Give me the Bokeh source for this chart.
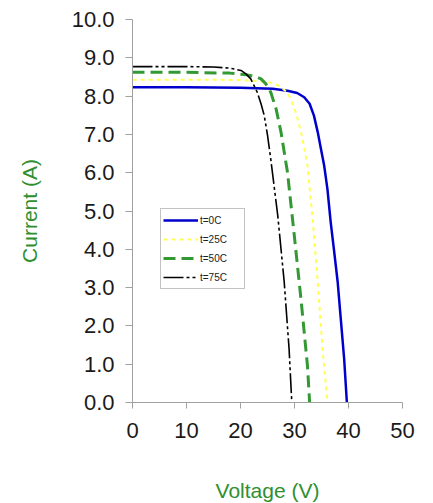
from bokeh.plotting import figure
from bokeh.models import Range1d, FixedTicker, NumeralTickFormatter, Legend, LegendItem
from bokeh.embed import file_html
from bokeh.resources import INLINE

# Data
v_0c = [0, 10, 20, 26, 28.7, 30.5, 31.8, 32.8, 33.6, 34.3, 34.9, 35.5, 36.1, 36.7, 37.3, 38.0, 38.5, 39.2, 39.7]
i_0c = [8.23, 8.23, 8.22, 8.19, 8.14, 8.08, 7.97, 7.80, 7.49, 7.06, 6.62, 6.18, 5.57, 4.71, 4.00, 3.14, 2.30, 1.13, 0.0]

v_25c = [0, 10, 20, 25, 27, 28.5, 29.3, 30.3, 31.2, 31.8, 32.4, 33.3, 34.3, 35.2, 36.1]
i_25c = [8.43, 8.43, 8.42, 8.38, 8.28, 8.12, 7.93, 7.55, 7.06, 6.65, 6.18, 4.88, 3.14, 1.39, 0.0]

v_50c = [0, 10, 18, 21, 23, 23.8, 24.7, 25.6, 26.6, 27.5, 28.7, 29.9, 31.2, 32.4, 32.8]
i_50c = [8.62, 8.62, 8.60, 8.56, 8.50, 8.45, 8.32, 8.10, 7.66, 7.06, 6.01, 4.44, 2.70, 0.96, 0.0]

v_75c = [0, 10, 15, 18, 20.1, 21.0, 21.9, 23.1, 23.8, 24.4, 25.0, 25.6, 26.9, 28.1, 29.0, 29.5]
i_75c = [8.77, 8.77, 8.76, 8.73, 8.67, 8.58, 8.45, 8.10, 7.80, 7.49, 6.98, 6.36, 4.88, 3.14, 1.39, 0.0]

labels = ["t=0C", "t=25C", "t=50C", "t=75C"]
x_ticks = [0, 10, 20, 30, 40, 50]
y_ticks = [0, 1, 2, 3, 4, 5, 6, 7, 8, 9, 10]

FONT = "Liberation Sans"
GREEN_TXT = "#2f8f2f"
AXIS_GRAY = "#a0a0a0"

p = figure(frame_width=270, frame_height=383,
           x_range=Range1d(0, 50), y_range=Range1d(0, 10),
           output_backend="svg", toolbar_location=None,
           min_border_left=132, min_border_right=23,
           min_border_top=19, min_border_bottom=98)
p.outline_line_color = None
p.xgrid.visible = False
p.ygrid.visible = False

r0 = p.line(v_0c, i_0c, line_color="#0000cc", line_width=2.5)
r1 = p.line(v_25c, i_25c, line_color="#ffff55", line_width=2, line_dash="4 4")
r2 = p.line(v_50c, i_50c, line_color="#339933", line_width=3, line_dash="12 6")
r3 = p.line(v_75c, i_75c, line_color="#000000", line_width=1.6, line_dash="20 3 3 3 3 3")

for ax in (p.xaxis[0], p.yaxis[0]):
    ax.axis_line_color = AXIS_GRAY
    ax.major_tick_line_color = AXIS_GRAY
    ax.minor_tick_line_color = None
    ax.major_tick_in = 0
    ax.major_label_text_font = FONT
    ax.major_label_text_font_size = "22px"
    ax.major_label_text_color = "#1a1a1a"
    ax.axis_label_text_font = FONT
    ax.axis_label_text_font_size = "21px"
    ax.axis_label_text_font_style = "normal"
    ax.axis_label_text_color = GREEN_TXT

p.xaxis.ticker = FixedTicker(ticks=x_ticks)
p.yaxis.ticker = FixedTicker(ticks=y_ticks)
p.yaxis.formatter = NumeralTickFormatter(format="0.0")
p.xaxis.major_tick_out = 6
p.yaxis.major_tick_out = 7
p.xaxis.major_label_standoff = 14
p.yaxis.major_label_standoff = 11
p.xaxis.axis_label = "Voltage (V)"
p.yaxis.axis_label = "Current (A)"
p.xaxis.axis_label_standoff = 38
p.yaxis.axis_label_standoff = 28

legend = Legend(items=[LegendItem(label=l, renderers=[r]) for l, r in zip(labels, [r0, r1, r2, r3])],
                location=(28, 113), padding=2, spacing=1, margin=0,
                glyph_width=35, glyph_height=18, label_height=18, label_width=42,
                label_standoff=2, label_text_font=FONT, label_text_font_size="10px",
                label_text_color="#222222",
                border_line_color="#888888", border_line_width=1,
                background_fill_color="white", background_fill_alpha=1.0)
p.add_layout(legend, "center")

open("out.html", "w").write(file_html(p, INLINE))
